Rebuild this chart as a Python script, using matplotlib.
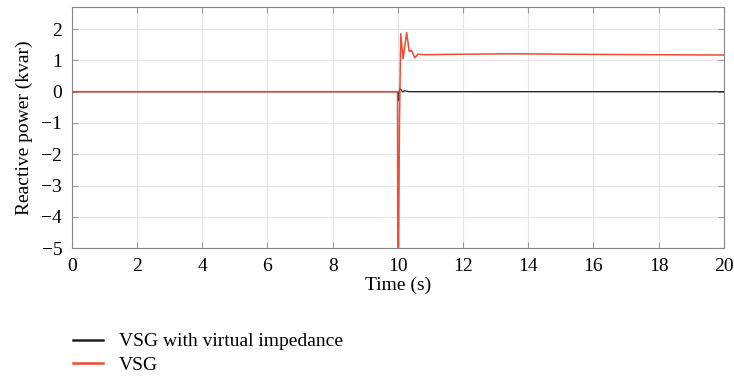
import matplotlib.pyplot as plt

plt.rcParams['font.family'] = ['Liberation Serif', 'DejaVu Serif']

# VSG with virtual impedance (black)
t_vi = [0, 9.99, 10.0, 10.02, 10.06, 10.1, 10.15, 10.2, 10.25, 10.35, 10.5, 12, 20]
q_vi = [0, 0, -0.29, -0.1, 0.1, 0.06, -0.01, 0.03, 0.02, 0.0, 0.0, 0.0, 0.0]

# VSG (red)
t_vsg = [0, 9.99, 10.0, 10.02, 10.05, 10.09, 10.16, 10.27, 10.35, 10.42, 10.52, 10.62,
         10.8, 11.5, 13.5, 16, 20]
q_vsg = [0, 0, -5.5, -5.5, -1.0, 1.85, 1.05, 1.89, 1.28, 1.32, 1.08, 1.2,
         1.18, 1.19, 1.21, 1.19, 1.17]

fig = plt.figure(figsize=(7.34, 3.76), dpi=100)
ax = fig.add_axes([0.098, 0.34, 0.888, 0.641])

ax.plot(t_vi, q_vi, color='#222222', lw=0.9, label='VSG with virtual impedance', zorder=3)
ax.plot(t_vsg, q_vsg, color='#f04a32', lw=1.1, label='VSG', zorder=4)

ax.set_xlim(0, 20)
ax.set_ylim(-5, 2.7)
ax.set_xticks(range(0, 21, 2))
ax.set_yticks(range(-5, 3))
ax.set_yticklabels(['\u22125', '\u22124', '\u22123', '\u22122', '\u22121', '0', '1', '2'])
ax.grid(True, color='#e6e6e6', lw=0.8)
ax.set_axisbelow(True)
ax.tick_params(direction='in', top=True, right=True, length=4, color='#999999',
               labelsize=14)
ax.tick_params(axis='x', pad=7)
ax.tick_params(axis='y', pad=7)
for s in ax.spines.values():
    s.set_color('#888888')
    s.set_linewidth(0.8)
ax.set_xlabel('Time (s)', fontsize=14, labelpad=1)
ax.set_ylabel('Reactive power (kvar)', fontsize=14, labelpad=6)

fig.legend(loc='upper left', bbox_to_anchor=(0.089, 0.135),
           frameon=False, fontsize=14, handlelength=1.55, handletextpad=0.8,
           labelspacing=0.35, borderaxespad=0, handleheight=0.6)
for line in fig.legends[0].get_lines():
    line.set_linewidth(1.8)

fig.savefig('out.png', dpi=100)
